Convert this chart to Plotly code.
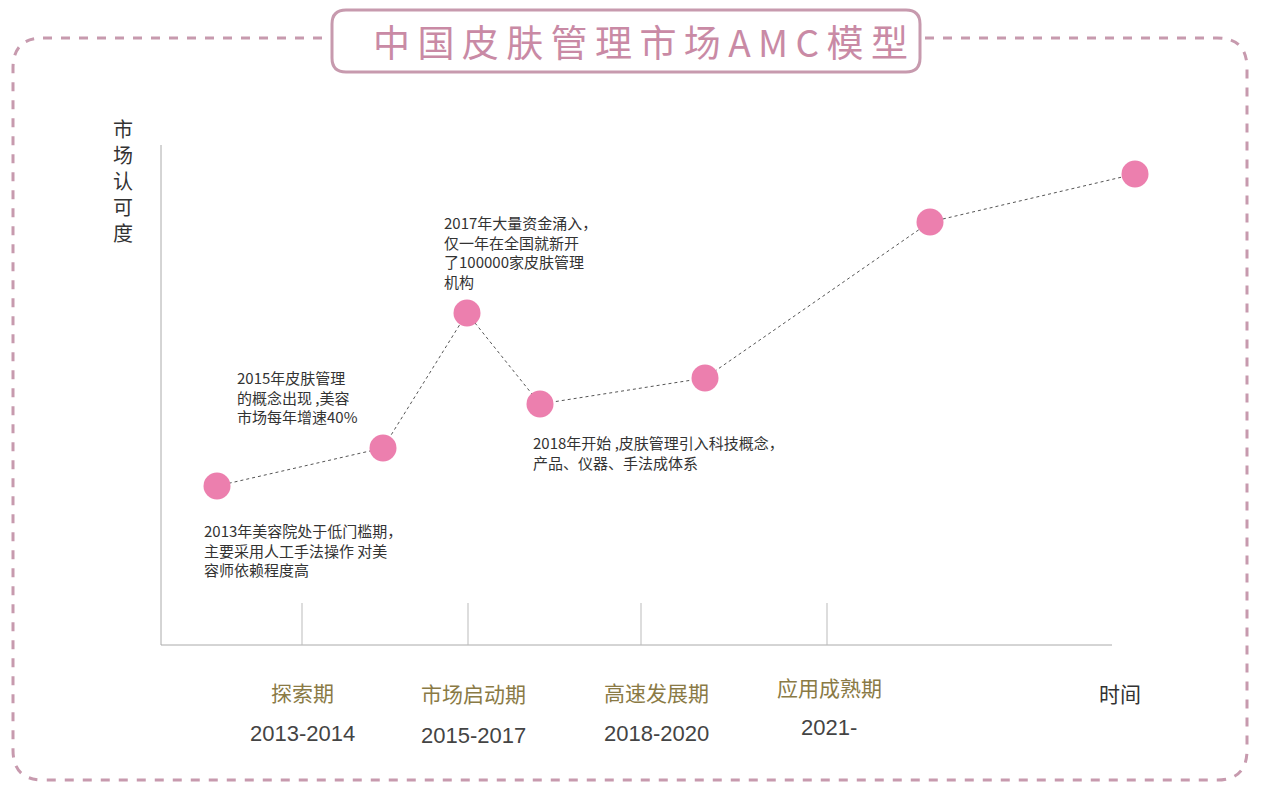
import plotly.graph_objects as go

years = [2013, 2015, 2017, 2018, 2019, 2021, 2023]
x_pos = [217, 383, 467, 540, 705, 930, 1135]
recognition = [318, 356, 491, 400, 426, 582, 630]
notes = [
    ("2013年美容院处于低门槛期，<br>主要采用人工手法操作 对美<br>容师依赖程度高", 202, 550),
    ("2015年皮肤管理<br>的概念出现 ,美容<br>市场每年增速40%", 235, 397),
    ("2017年大量资金涌入，<br>仅一年在全国就新开<br>了100000家皮肤管理<br>机构", 442, 252),
    ("2018年开始 ,皮肤管理引入科技概念，<br>产品、仪器、手法成体系", 531, 452),
]
phases = ["探索期", "市场启动期", "高速发展期", "应用成熟期"]
periods = ["2013-2014", "2015-2017", "2018-2020", "2021-"]
phase_x = [302, 473, 656, 829]
phase_y = [692, 693, 692, 687]
period_y = [733, 735, 733, 727]
tick_x = [302, 468, 641, 827]

H = 804
OFF = 8
def X(p): return p - OFF
def Y(p): return H - (p - OFF)

border = "#c79aae"
fig = go.Figure()
fig.add_trace(go.Scatter(x=[X(v) for v in x_pos], y=[v + OFF for v in recognition], mode="lines+markers",
    line=dict(color="#555", width=1, dash="dot"),
    marker=dict(size=27, color="#ec7fae"), hoverinfo="skip"))

def rrect(x0, y0, x1, y1, r):
    return (f"M{x0+r},{y0} L{x1-r},{y0} Q{x1},{y0} {x1},{y0-r} L{x1},{y1+r} Q{x1},{y1} {x1-r},{y1} "
            f"L{x0+r},{y1} Q{x0},{y1} {x0},{y1+r} L{x0},{y0-r} Q{x0},{y0} {x0+r},{y0} Z")

shapes = [
    dict(type="path", path=rrect(X(13), Y(38), X(1247), Y(780), 30), line=dict(color=border, width=3, dash="dash")),
    dict(type="path", path=rrect(X(332), Y(10), X(920), Y(72), 14), fillcolor="white", line=dict(color=border, width=3)),
    dict(type="line", x0=X(161), x1=X(161), y0=Y(645), y1=Y(145), line=dict(color="#aaa", width=1)),
    dict(type="line", x0=X(161), x1=X(1112), y0=Y(645), y1=Y(645), line=dict(color="#aaa", width=1)),
]
for tx in tick_x:
    shapes.append(dict(type="line", x0=X(tx), x1=X(tx), y0=Y(645), y1=Y(603), line=dict(color="#bbb", width=1)))

title = "\u2009".join("中国皮肤管理市场AMC模型")
ann = [dict(x=X(640), y=Y(41), text=title, showarrow=False,
            font=dict(size=37, color="#c98aa5", family="Noto Sans CJK SC")),
       dict(x=X(123), y=Y(180), text="市<br>场<br>认<br>可<br>度", showarrow=False,
            font=dict(size=20, color="#333", family="Noto Sans CJK SC")),
       dict(x=X(1120), y=Y(693), text="时间", showarrow=False,
            font=dict(size=21, color="#333", family="Noto Sans CJK SC"))]
for t, x, y in notes:
    ann.append(dict(x=X(x), y=Y(y), text=t, showarrow=False, xanchor="left", align="left",
                    font=dict(size=15, color="#333", family="Noto Sans CJK SC")))
for p, per, x, py, ry in zip(phases, periods, phase_x, phase_y, period_y):
    ann.append(dict(x=X(x), y=Y(py), text=p, showarrow=False,
                    font=dict(size=21, color="#8a7a45", family="Noto Sans CJK SC")))
    ann.append(dict(x=X(x), y=Y(ry), text=per, showarrow=False,
                    font=dict(size=22, color="#444", family="Liberation Sans")))

fig.update_layout(width=1269, height=804, margin=dict(l=0, r=0, t=0, b=0),
    plot_bgcolor="white", paper_bgcolor="white", showlegend=False,
    xaxis=dict(range=[0, 1269], visible=False),
    yaxis=dict(range=[0, 804], visible=False),
    shapes=shapes, annotations=ann)
fig.write_html("out.html")
